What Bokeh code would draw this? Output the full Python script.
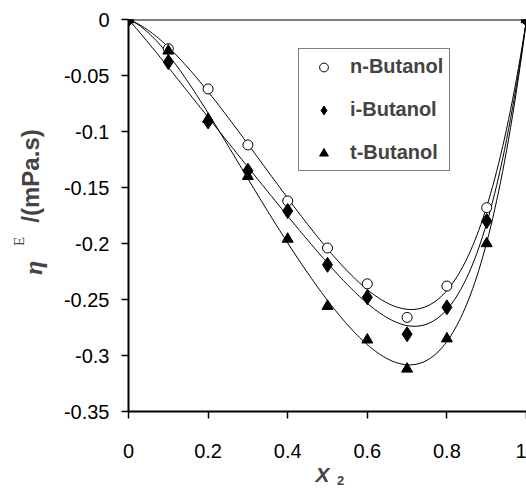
import numpy as np
from bokeh.plotting import figure
from bokeh.layouts import row, column
from bokeh.models import Range1d, Span, Label, Legend, LegendItem, FixedTicker
from bokeh.embed import file_html
from bokeh.resources import INLINE

# ---- data ----
x2 = [0.0, 0.1, 0.2, 0.3, 0.4, 0.5, 0.6, 0.7, 0.8, 0.9, 1.0]
n_butanol = [0.0, -0.026, -0.062, -0.112, -0.162, -0.204, -0.236, -0.266, -0.238, -0.168, 0.0]
i_butanol = [0.0, -0.038, -0.091, -0.135, -0.171, -0.219, -0.248, -0.281, -0.257, -0.180, 0.0]
t_butanol = [0.0, -0.028, -0.089, -0.140, -0.196, -0.256, -0.286, -0.312, -0.285, -0.200, 0.0]
x_ticks = [0, 0.2, 0.4, 0.6, 0.8, 1.0]
y_ticks = [0, -0.05, -0.1, -0.15, -0.2, -0.25, -0.3, -0.35]

FONT = "Liberation Sans"
W, H = 526, 491
YL_W = 50          # width of the strip holding the y title
XL_H = 30          # height of the strip holding the x title
MAIN_H = H - XL_H  # 461

def blank(width, height):
    f = figure(width=width, height=height, output_backend="svg", toolbar_location=None,
               x_axis_type=None, y_axis_type=None,
               x_range=Range1d(0, width), y_range=Range1d(0, height),
               min_border=0, min_border_left=0, min_border_right=0,
               min_border_top=0, min_border_bottom=0)
    f.outline_line_color = None
    f.grid.grid_line_color = None
    return f

# ---- main chart ----
p = figure(width=W - YL_W, height=MAIN_H, output_backend="svg", toolbar_location=None,
           x_range=Range1d(0, 1.0), y_range=Range1d(-0.35, 0.0),
           min_border_left=128 - YL_W, min_border_right=0, min_border_top=19,
           min_border_bottom=MAIN_H - 411)
p.outline_line_color = None
p.grid.grid_line_color = None
p.background_fill_color = "white"

for ax in (p.xaxis[0], p.yaxis[0]):
    ax.axis_line_width = 2
    ax.axis_line_color = "black"
    ax.major_tick_line_color = "black"
    ax.major_tick_line_width = 1.5
    ax.minor_tick_line_color = None
    ax.major_tick_in = 0
    ax.major_tick_out = 7
    ax.major_label_text_font = FONT
    ax.major_label_text_font_size = "20px"
    ax.major_label_text_color = "black"

p.xaxis.ticker = FixedTicker(ticks=x_ticks)
p.yaxis.ticker = FixedTicker(ticks=y_ticks)
p.xaxis.major_label_overrides = {0: "0", 0.2: "0.2", 0.4: "0.4", 0.6: "0.6", 0.8: "0.8", 1.0: "1"}
p.yaxis.major_label_overrides = {0: "0", -0.05: "-0.05", -0.1: "-0.1", -0.15: "-0.15",
                                 -0.2: "-0.2", -0.25: "-0.25", -0.3: "-0.3", -0.35: "-0.35"}
p.xaxis.major_label_standoff = 25
p.yaxis.major_label_standoff = 12

# top line at zero
p.add_layout(Span(location=0, dimension="width", line_color="black", line_width=2))

# Redlich-Kister fitted smooth curves from the data
xa = np.array(x2)
xs = np.linspace(0, 1, 201)
def rk_fit(yvals, order=4):
    A = np.column_stack([xa * (1 - xa) * (2 * xa - 1) ** k for k in range(order)])
    coef, *_ = np.linalg.lstsq(A, np.array(yvals), rcond=None)
    B = np.column_stack([xs * (1 - xs) * (2 * xs - 1) ** k for k in range(order)])
    return B @ coef

for ys in (n_butanol, i_butanol, t_butanol):
    p.line(xs, rk_fit(ys), line_color="black", line_width=1)

r_n = p.scatter(x2, n_butanol, marker="circle", size=10, fill_color="white", line_color="black", line_width=1)
r_i = p.scatter(x2, i_butanol, marker="diamond", size=15, fill_color="black", line_color="black")
r_t = p.scatter(x2, t_butanol, marker="triangle", size=11, fill_color="black", line_color="black")

legend = Legend(items=[LegendItem(label="n-Butanol", renderers=[r_n]),
                       LegendItem(label="i-Butanol", renderers=[r_i]),
                       LegendItem(label="t-Butanol", renderers=[r_t])],
                location=(170, 240))
legend.label_text_font = FONT
legend.label_text_font_style = "bold"
legend.label_text_font_size = "20px"
legend.border_line_color = "black"
legend.border_line_width = 1
legend.padding = 6
legend.spacing = 20
legend.glyph_width = 37
legend.glyph_height = 22
legend.label_height = 22
legend.label_standoff = 8
legend.background_fill_alpha = 1
p.add_layout(legend, "center")

# ---- y title strip: eta^E/(mPa.s)  (centres given in page pixels) ----
yl = blank(YL_W, MAIN_H)
def ylab(cx, cy, text, **kw):
    yl.add_layout(Label(x=cx, y=MAIN_H - cy, text=text, angle=np.pi / 2,
                        text_baseline="middle", text_align="center", **kw))
ylab(33, 292, "η", text_font="Liberation Serif", text_font_style="bold italic", text_font_size="26px")
ylab(18, 261, "E", text_font="Liberation Serif", text_font_size="15px")
ylab(30, 184, "/(mPa.s)", text_font=FONT, text_font_style="bold", text_font_size="24px")

# ---- x title strip: X2 ----
xl = blank(W, XL_H)
def xlab(cx, cy, text, **kw):
    xl.add_layout(Label(x=cx, y=H - cy, text=text, text_baseline="middle", text_align="center", **kw))
xlab(322, 474, "X", text_font=FONT, text_font_style="bold italic", text_font_size="21px")
xlab(340, 480, "2", text_font=FONT, text_font_style="bold", text_font_size="13px")

layout = column(row(yl, p, spacing=0), xl, spacing=0)
open("out.html", "w").write(file_html(layout, INLINE))
